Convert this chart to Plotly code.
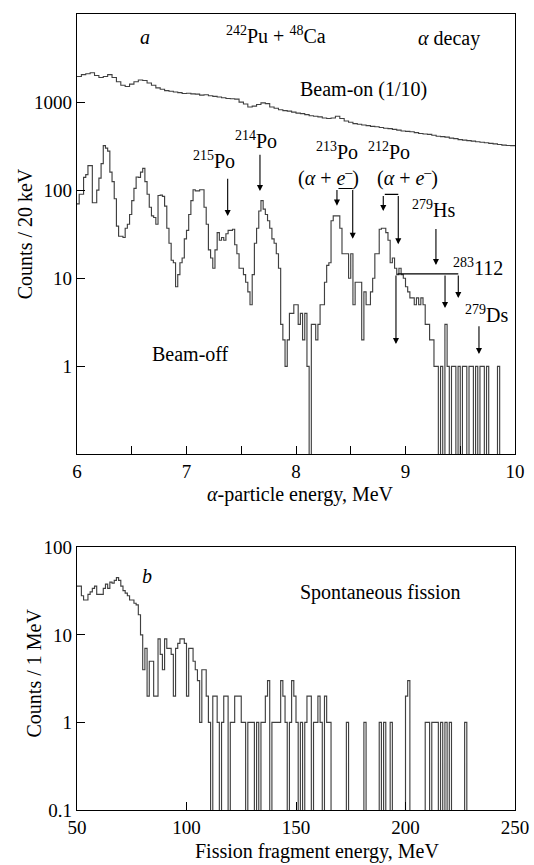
import numpy as np
import plotly.graph_objects as go

# ------------------------------------------------------------------ data
# (a) alpha spectrum, beam-off, counts per 20 keV bin, bins start at 6.00 MeV
alpha_start = 6.0
alpha_bin = 0.02
beam_off_counts = [
    70, 90, 90, 140, 150, 190, 190, 72, 72, 100,      # 6.00-6.18
    137, 200, 320, 300, 277, 160, 125, 80, 39, 30,    # 6.20-6.38
    30, 29, 37, 41, 53, 76, 105, 141, 140, 160,       # 6.40-6.58
    177, 125, 90, 64, 51, 49, 41, 87, 88, 85,         # 6.60-6.78
    66, 37, 25, 16, 15, 8, 11, 15, 17, 28,            # 6.80-6.98
    35, 53, 76, 101, 98, 98, 101, 101, 64, 41,        # 7.00-7.18
    21, 17, 13, 21, 33, 27, 29, 27, 32, 35,           # 7.20-7.38
    35, 36, 24, 19, 13, 13, 11, 9, 7, 5,              # 7.40-7.58
    11, 25, 37, 58, 76, 61, 53, 45, 37, 28,           # 7.60-7.78
    25, 19, 13, 3, 2, 1, 2, 4, 4, 5,                  # 7.80-7.98
    5, 3, 4, 2, 4, 1, 0, 3, 3, 2,                     # 8.00-8.18
    3, 5, 5, 9, 14, 15, 45, 51, 51, 51,               # 8.20-8.38
    37, 19, 19, 19, 10, 19, 5, 9, 9, 9,               # 8.40-8.58
    2, 7, 5, 5, 7, 10, 19, 19, 36, 37,                # 8.60-8.78
    37, 33, 27, 15, 17, 13, 11, 13, 11, 10,           # 8.80-8.98
    8, 7, 6, 6, 5, 6, 5, 6, 5, 3,                     # 9.00-9.18
    3, 2, 2, 1, 1, 0, 1, 0, 3, 1,                     # 9.20-9.38
    0, 1, 1, 0, 1, 0, 1, 1, 0, 1,                     # 9.40-9.58
    1, 0, 1, 0, 1, 1, 0, 1, 0, 0,                     # 9.60-9.78
    0, 0, 1, 0, 0, 0, 0, 0, 0, 0,                     # 9.80-9.98
]

# (a) beam-on spectrum divided by 10, 40 keV steps starting at 6.00 MeV
beam_on_start = 6.0
beam_on_bin = 0.04
beam_on_div10 = [
    1950, 2050, 2100, 2150, 2000, 1900, 1950, 2050, 1900, 1700,
    1550, 1500, 1600, 1700, 1780, 1760, 1650, 1550, 1450, 1400,
    1350, 1330, 1300, 1280, 1250, 1260, 1240, 1230, 1200, 1210,
    1180, 1160, 1140, 1120, 1100, 1090, 1080, 1000, 950, 880,
    900, 940, 980, 960, 880, 850, 820, 800, 790, 770,
    750, 740, 720, 700, 690, 680, 660, 650, 660, 690,
    650, 610, 590, 570, 560, 550, 540, 530, 525, 515,
    505, 500, 490, 480, 470, 465, 460, 450, 440, 435,
    430, 420, 410, 405, 400, 390, 385, 375, 370, 365,
    360, 355, 350, 345, 340, 335, 330, 325, 322, 320,
]

# (b) fission fragment energy spectrum, counts per 1 MeV, bins start at 50 MeV
sf_start = 50.0
sf_bin = 1.0
sf_counts = [
    36, 36, 28, 25, 25, 29, 31, 34, 36, 29,   # 50-59
    29, 29, 34, 38, 34, 40, 39, 42, 45, 42,   # 60-69
    36, 32, 30, 28, 25, 25, 23, 22, 17, 10,   # 70-79
    4, 7, 2, 5, 5, 2, 2, 9, 6, 4,             # 80-89
    9, 7, 7, 6, 2, 7, 8, 9, 9, 8,             # 90-99
    2, 7, 7, 5, 4, 3, 1, 4, 4, 2,             # 100-109
    1, 0, 2, 2, 1, 0, 1, 2, 2, 0,             # 110-119
    1, 1, 2, 2, 2, 1, 1, 0, 1, 1,             # 120-129
    1, 0, 1, 0, 1, 1, 2, 3, 0, 1,             # 130-139
    1, 1, 1, 3, 2, 1, 0, 1, 3, 2,             # 140-149
    1, 0, 1, 0, 1, 2, 2, 0, 1, 1,             # 150-159
    2, 1, 0, 2, 1, 1, 0, 0, 0, 0,             # 160-169
    0, 0, 0, 1, 0, 0, 0, 0, 0, 0,             # 170-179
    0, 1, 0, 0, 0, 0, 0, 0, 1, 0,             # 180-189
    1, 0, 0, 1, 0, 0, 0, 0, 0, 0,             # 190-199
    2, 3, 0, 0, 0, 0, 0, 0, 0, 1,             # 200-209
    1, 0, 1, 1, 1, 0, 1, 0, 1, 0,             # 210-219
    1, 0, 0, 0, 0, 0, 0, 1, 0, 0,             # 220-229
    0, 0, 0, 0, 0, 0, 0, 0, 0, 0,             # 230-239
    0, 0, 0, 0, 0, 0, 0, 0, 0, 0,             # 240-249
]

# ------------------------------------------------------------------ helpers
FONT = "Liberation Serif"
LINE = "#404040"


def step_xy(start, width, counts, floor=1e-3):
    edges = [start + i * width for i in range(len(counts) + 1)]
    ys = [c if c > 0 else floor for c in counts]
    ys.append(ys[-1])
    return edges, ys


fig = go.Figure()

x, y = step_xy(beam_on_start, beam_on_bin, beam_on_div10)
fig.add_trace(go.Scatter(x=x, y=y, mode="lines", line=dict(color=LINE, width=1.1, shape="hv"),
                         xaxis="x", yaxis="y", hoverinfo="skip"))
x, y = step_xy(alpha_start, alpha_bin, beam_off_counts)
fig.add_trace(go.Scatter(x=x, y=y, mode="lines", line=dict(color=LINE, width=1.15, shape="hv"),
                         xaxis="x", yaxis="y", hoverinfo="skip"))
x, y = step_xy(sf_start, sf_bin, sf_counts)
fig.add_trace(go.Scatter(x=x, y=y, mode="lines", line=dict(color=LINE, width=1.15, shape="hv"),
                         xaxis="x2", yaxis="y2", hoverinfo="skip"))

ann = []


def label(text, xv, cv, xref="x", yref="y", size=20, **kw):
    ann.append(dict(text=text, x=xv, y=np.log10(cv), xref=xref, yref=yref, showarrow=False,
                    font=dict(family=FONT, size=size, color="black"),
                    xanchor="center", yanchor="middle", **kw))


def arrow(xv, c_tail, c_tip, head=True, x_tail=None):
    ann.append(dict(text="", x=xv, y=np.log10(c_tip), ax=xv if x_tail is None else x_tail,
                    ay=np.log10(c_tail), xref="x", yref="y", axref="x", ayref="y",
                    showarrow=True, arrowhead=2 if head else 0, arrowsize=1.1,
                    arrowwidth=1.1, arrowcolor="black", standoff=0, startstandoff=0))


# panel a texts
label("<i>a</i>", 6.62, 5500)
label("<sup>242</sup>Pu + <sup>48</sup>Ca", 7.815, 5800)
label("<i>α</i> decay", 9.40, 5300)
label("Beam-on (1/10)", 8.62, 1400)
label("<sup>215</sup>Po", 7.25, 220)
label("<sup>214</sup>Po", 7.632, 375)
label("<sup>213</sup>Po", 8.372, 275)
label("(<i>α</i> + <i>e</i><sup>–</sup>)", 8.30, 138)
label("<sup>212</sup>Po", 8.849, 275)
label("(<i>α</i> + <i>e</i><sup>–</sup>)", 9.018, 138)
label("<sup>279</sup>Hs", 9.26, 61)
label("<sup>283</sup>112", 9.665, 13.5)
label("<sup>279</sup>Ds", 9.742, 3.9)
label("Beam-off", 7.038, 1.38)

# panel a arrows
arrow(7.376, 140, 51)           # 215Po
arrow(7.671, 262, 98)           # 214Po
arrow(8.518, 104.5, 104.5, head=False, x_tail=8.374)   # 213Po bracket
arrow(8.374, 104.5, 66.7)
arrow(8.518, 104.5, 28)
arrow(8.934, 89.5, 89.5, head=False, x_tail=8.797)     # 212Po bracket
arrow(8.797, 89.5, 58)
arrow(8.934, 89.5, 24.3)
arrow(9.278, 37.8, 14.1)        # 279Hs
arrow(9.482, 11.2, 11.2, head=False, x_tail=8.913)     # 283112 bracket
arrow(8.913, 11.2, 1.79)
arrow(9.361, 11.2, 4.6)
arrow(9.482, 11.2, 5.96)
arrow(9.671, 2.97, 1.38)        # 279Ds

# panel b texts
label("<i>b</i>", 82, 46.8, xref="x2", yref="y2")
label("Spontaneous fission", 188.7, 30.4, xref="x2", yref="y2")

# axis titles
ann.append(dict(text="<i>α</i>-particle energy, MeV", x=0.51, y=0.3958, xref="paper", yref="paper",
                showarrow=False, xanchor="center", yanchor="middle",
                font=dict(family=FONT, size=20, color="black")))
ann.append(dict(text="Fission fragment energy, MeV", x=0.548, y=-0.052, xref="paper", yref="paper",
                showarrow=False, xanchor="center", yanchor="middle",
                font=dict(family=FONT, size=20, color="black")))
ann.append(dict(text="Counts / 20 keV", x=-0.1187, y=0.7233, xref="paper", yref="paper",
                showarrow=False, xanchor="center", yanchor="middle", textangle=-90,
                font=dict(family=FONT, size=20, color="black")))
ann.append(dict(text="Counts / 1 MeV", x=-0.098, y=0.1716, xref="paper", yref="paper",
                showarrow=False, xanchor="center", yanchor="middle", textangle=-90,
                font=dict(family=FONT, size=20, color="black")))

axis_common = dict(ticks="inside", ticklen=8, tickwidth=1.2, tickcolor="black",
                   showline=True, linecolor="black", linewidth=1.3, mirror=True,
                   showgrid=False, zeroline=False,
                   tickfont=dict(family=FONT, size=19, color="black"))

fig.update_layout(
    width=534, height=865,
    margin=dict(l=77, r=19, t=4, b=55),
    paper_bgcolor="white", plot_bgcolor="white",
    showlegend=False,
    font=dict(family=FONT, size=19, color="black"),
    xaxis=dict(domain=[0, 1], anchor="y", range=[6, 10], tickvals=[6, 7, 8, 9, 10],
               minor=dict(tickvals=[6.5, 7.5, 8.5, 9.5], ticks="inside", ticklen=8,
                          tickcolor="black", tickwidth=1.2),
               **axis_common),
    yaxis=dict(domain=[0.4467, 1], anchor="x", type="log", range=[-1, 4],
               tickvals=[1, 10, 100, 1000], ticktext=["1", "10", "100", "1000"],
               **axis_common),
    xaxis2=dict(domain=[0, 1], anchor="y2", range=[50, 250], tickvals=[50, 100, 150, 200, 250],
                **axis_common),
    yaxis2=dict(domain=[0, 0.33], anchor="x2", type="log", range=[-1, 2],
                tickvals=[0.1, 1, 10, 100], ticktext=["0.1", "1", "10", "100"],
                **axis_common),
    annotations=ann,
)

fig.write_html("out.html")
